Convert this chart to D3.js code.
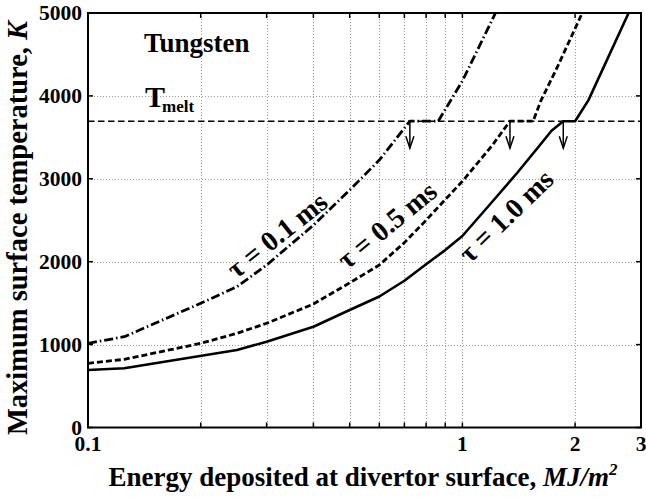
<!DOCTYPE html>
<html>
<head>
<meta charset="utf-8">
<script src="https://cdn.jsdelivr.net/npm/d3@7"></script>
<style>
  html, body { margin: 0; padding: 0; background: #fff; }
  svg { display: block; font-family: "Liberation Serif", "Times New Roman", serif; font-weight: bold; }
</style>
</head>
<body>
<svg id="chart" width="646" height="498"></svg>
<script>
// Peak tungsten surface temperature vs. deposited energy for three pulse lengths
const xTickValues = [0.1, 1, 2, 3];
const xTickLabels = ["0.1", "1", "2", "3"];
const xGridValues = [0.2, 0.3, 0.4, 0.5, 0.6, 0.7, 0.8, 0.9, 1, 2];
const yTickValues = [0, 1000, 2000, 3000, 4000, 5000];

const tMelt = 3695;

// tau = 0.1 ms
const energyTau01 = [0.1, 0.125, 0.2, 0.25, 0.3, 0.4, 0.5, 0.6, 0.724, 0.862, 1.0, 1.226];
const tempTau01   = [1015, 1095, 1498, 1698, 1960, 2440, 2864, 3226, 3695, 3695, 4180, 5000];

// tau = 0.5 ms
const energyTau05 = [0.1, 0.125, 0.2, 0.25, 0.3, 0.4, 0.5, 0.6, 0.7, 0.8, 0.9, 1.0, 1.2, 1.34, 1.545, 1.62, 1.79, 2.09];
const tempTau05   = [774, 822, 1015, 1136, 1257, 1489, 1745, 1960, 2230, 2500, 2750, 2970, 3400, 3695, 3695, 3940, 4340, 5000];

// tau = 1.0 ms
const energyTau10 = [0.1, 0.125, 0.25, 0.3, 0.4, 0.5, 0.6, 0.7, 0.8, 0.9, 1.0, 1.2, 1.4, 1.6, 1.73, 1.86, 2.0, 2.17, 2.78];
const tempTau10   = [693, 714, 935, 1035, 1216, 1417, 1580, 1770, 1970, 2140, 2310, 2720, 3070, 3390, 3580, 3695, 3695, 3946, 5000];

const seriesNames = ["\u03c4 = 0.1 ms", "\u03c4 = 0.5 ms", "\u03c4 = 1.0 ms"];

const series = [
  { name: seriesNames[0], x: energyTau01, y: tempTau01, dash: "9,3,1.5,3", width: 2.8,
    label: { cx: 277, cy: 235, angle: -38.5 } },
  { name: seriesNames[1], x: energyTau05, y: tempTau05, dash: "6,3", width: 2.8,
    label: { cx: 387, cy: 225, angle: -39.5 } },
  { name: seriesNames[2], x: energyTau10, y: tempTau10, dash: null, width: 2.6,
    label: { cx: 506, cy: 216, angle: -44 } }
];

const svg = d3.select("#chart");
const plotLeft = 88, plotRight = 641, plotTop = 13, plotBottom = 427.5;

const x = d3.scaleLog().domain([0.1, 3]).range([plotLeft, plotRight]);
const y = d3.scaleLinear().domain([0, 5000]).range([plotBottom, plotTop]);

svg.append("defs").append("clipPath").attr("id", "plotClip")
  .append("rect").attr("x", plotLeft).attr("y", plotTop)
  .attr("width", plotRight - plotLeft).attr("height", plotBottom - plotTop);

// dotted grid
const grid = svg.append("g").attr("stroke", "#9a9a9a").attr("stroke-width", 1)
  .attr("stroke-dasharray", "1,2");
grid.selectAll("line.gx").data(xGridValues).join("line")
  .attr("x1", d => Math.round(x(d)) + 0.5).attr("x2", d => Math.round(x(d)) + 0.5)
  .attr("y1", plotTop).attr("y2", plotBottom);
grid.selectAll("line.gy").data(yTickValues.filter(v => v > 0 && v < 5000)).join("line")
  .attr("x1", plotLeft).attr("x2", plotRight)
  .attr("y1", d => Math.round(y(d)) + 0.5).attr("y2", d => Math.round(y(d)) + 0.5);

// melting temperature
svg.append("line")
  .attr("x1", plotLeft).attr("x2", plotRight)
  .attr("y1", y(tMelt)).attr("y2", y(tMelt))
  .attr("stroke", "#000").attr("stroke-width", 1.6).attr("stroke-dasharray", "6.5,3.5");

// curves
const line = d3.line().x(d => x(d[0])).y(d => y(d[1]));
const curves = svg.append("g").attr("clip-path", "url(#plotClip)");
series.forEach(s => {
  const pts = s.x.map((v, i) => [v, s.y[i]]);
  curves.append("path")
    .attr("d", line(pts))
    .attr("fill", "none")
    .attr("stroke", "#000")
    .attr("stroke-width", s.width)
    .attr("stroke-linejoin", "round")
    .attr("stroke-dasharray", s.dash);
});

// melt-onset arrows
series.forEach(s => {
  const i = s.y.findIndex(v => v >= tMelt);
  const ax = x(s.x[i]);
  const y0 = y(tMelt), y1 = y0 + 27;
  const g = svg.append("g").attr("stroke", "#000").attr("stroke-width", 1.5).attr("fill", "none");
  g.append("line").attr("x1", ax).attr("x2", ax).attr("y1", y0).attr("y2", y1);
  g.append("path").attr("d", `M${ax - 4},${y1 - 12}L${ax},${y1}L${ax + 4},${y1 - 12}`);
});

// curve labels
series.forEach(s => {
  svg.append("text")
    .attr("transform", `translate(${s.label.cx},${s.label.cy}) rotate(${s.label.angle})`)
    .attr("text-anchor", "middle")
    .attr("dominant-baseline", "central")
    .attr("font-size", 28)
    .text(s.name);
});

// axes box with inward ticks
const axes = svg.append("g");
axes.append("rect").attr("x", plotLeft).attr("y", plotTop)
  .attr("width", plotRight - plotLeft).attr("height", plotBottom - plotTop)
  .attr("fill", "none").attr("stroke", "#000").attr("stroke-width", 2);

axes.selectAll("line.tb").data(xGridValues).join("line")
  .attr("x1", d => x(d)).attr("x2", d => x(d))
  .attr("y1", plotBottom).attr("y2", plotBottom - 5)
  .attr("stroke", "#000").attr("stroke-width", 1.5);
axes.selectAll("line.tt").data(xGridValues).join("line")
  .attr("x1", d => x(d)).attr("x2", d => x(d))
  .attr("y1", plotTop).attr("y2", plotTop + 5)
  .attr("stroke", "#000").attr("stroke-width", 1.5);
axes.selectAll("line.tl").data(yTickValues).join("line")
  .attr("x1", plotLeft).attr("x2", plotLeft + 5)
  .attr("y1", d => y(d)).attr("y2", d => y(d))
  .attr("stroke", "#000").attr("stroke-width", 1.5);
axes.selectAll("line.tr").data(yTickValues).join("line")
  .attr("x1", plotRight).attr("x2", plotRight - 5)
  .attr("y1", d => y(d)).attr("y2", d => y(d))
  .attr("stroke", "#000").attr("stroke-width", 1.5);

// tick labels
svg.append("g").selectAll("text").data(yTickValues).join("text")
  .attr("x", plotLeft - 6).attr("y", d => y(d))
  .attr("text-anchor", "end").attr("dominant-baseline", "central")
  .attr("font-size", 21.5)
  .text(d => String(d));

svg.append("g").selectAll("text").data(xTickValues).join("text")
  .attr("x", d => x(d)).attr("y", 451)
  .attr("text-anchor", "middle")
  .attr("font-size", 21.5)
  .text((d, i) => xTickLabels[i]);

// axis titles
const xt = svg.append("text").attr("x", 363).attr("y", 486)
  .attr("text-anchor", "middle").attr("font-size", 27);
xt.append("tspan").text("Energy deposited at divertor surface, ");
xt.append("tspan").attr("font-style", "italic").text("MJ/m");
xt.append("tspan").attr("font-style", "italic").attr("font-size", 17).attr("dy", -11).text("2");

const yt = svg.append("text")
  .attr("transform", "translate(27,228) rotate(-90)")
  .attr("text-anchor", "middle").attr("font-size", 28.5);
yt.append("tspan").text("Maximum surface temperature, ");
yt.append("tspan").attr("font-style", "italic").text("K");

// annotations
svg.append("text").attr("x", 144).attr("y", 52).attr("font-size", 27).text("Tungsten");
const tm = svg.append("text").attr("x", 145).attr("y", 107).attr("font-size", 30);
tm.append("tspan").text("T");
tm.append("tspan").attr("font-size", 17).attr("dx", -3).attr("dy", 5).text("melt");
</script>
</body>
</html>
